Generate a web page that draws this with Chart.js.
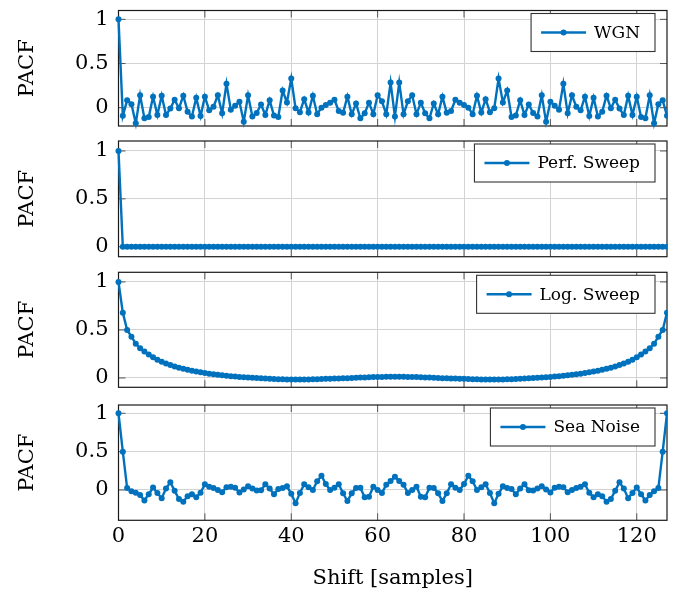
<!DOCTYPE html>
<html>
<head>
<meta charset="utf-8">
<script src="https://cdn.jsdelivr.net/npm/chart.js@4/dist/chart.umd.min.js"></script>
<style>
  html, body { margin: 0; padding: 0; background: #fff; width: 674px; height: 595px; overflow: hidden; position: relative; }
  canvas { position: absolute; left: 0; }
</style>
</head>
<body>
<canvas id="c1"></canvas>
<canvas id="c2"></canvas>
<canvas id="c3"></canvas>
<canvas id="c4"></canvas>
<script>
// Lag axis: shifts 0..128 (the last one lies just past the right edge)
const lags = Array.from({ length: 129 }, (_, i) => i);
const xTickValues = [0, 20, 40, 60, 80, 100, 120];
const yTickValues = [0, 0.5, 1];

// Partial autocorrelation of white Gaussian noise
const pacfWGN = [
  1.000, -0.090, 0.083, 0.040, -0.177, 0.140, -0.120, -0.105, 0.125, -0.082,
  0.136, -0.082, -0.010, 0.090, -0.007, 0.136, -0.045, -0.100, 0.113, -0.094,
  0.125, -0.030, 0.011, 0.140, -0.064, 0.272, -0.022, 0.023, 0.068, -0.160,
  0.140, -0.100, -0.060, 0.037, -0.082, 0.083, -0.088, -0.105, 0.195, 0.060,
  0.330, -0.007, -0.050, 0.097, -0.055, 0.136, -0.073, 0.000, 0.032, 0.055,
  0.090, -0.037, -0.058, 0.125, -0.075, 0.048, -0.120, -0.063, 0.057, -0.073,
  0.140, 0.072, -0.075, 0.284, -0.100, 0.284, -0.075, 0.072, 0.140, -0.073,
  0.057, -0.063, -0.120, 0.048, -0.075, 0.125, -0.058, -0.037, 0.090, 0.055,
  0.032, 0.000, -0.073, 0.136, -0.055, 0.097, -0.050, -0.007, 0.330, 0.060,
  0.195, -0.105, -0.088, 0.083, -0.082, 0.037, -0.060, -0.100, 0.140, -0.160,
  0.068, 0.023, -0.022, 0.272, -0.064, 0.140, 0.011, -0.030, 0.125, -0.094,
  0.113, -0.100, -0.045, 0.136, -0.007, 0.090, -0.010, -0.082, 0.136, -0.082,
  0.125, -0.105, -0.120, 0.140, -0.177, 0.040, 0.083, -0.090, 1.000
];

// Partial autocorrelation of the perfect sweep
const pacfPerfSweep = [
  1, 0, 0, 0, 0, 0, 0, 0, 0, 0, 0, 0, 0, 0, 0, 0, 0, 0, 0, 0,
  0, 0, 0, 0, 0, 0, 0, 0, 0, 0, 0, 0, 0, 0, 0, 0, 0, 0, 0, 0,
  0, 0, 0, 0, 0, 0, 0, 0, 0, 0, 0, 0, 0, 0, 0, 0, 0, 0, 0, 0,
  0, 0, 0, 0, 0, 0, 0, 0, 0, 0, 0, 0, 0, 0, 0, 0, 0, 0, 0, 0,
  0, 0, 0, 0, 0, 0, 0, 0, 0, 0, 0, 0, 0, 0, 0, 0, 0, 0, 0, 0,
  0, 0, 0, 0, 0, 0, 0, 0, 0, 0, 0, 0, 0, 0, 0, 0, 0, 0, 0, 0,
  0, 0, 0, 0, 0, 0, 0, 0, 1
];

// Partial autocorrelation of the logarithmic sweep
const pacfLogSweep = [
  1.000, 0.680, 0.500, 0.430, 0.355, 0.310, 0.275, 0.245, 0.215, 0.190,
  0.168, 0.150, 0.134, 0.120, 0.107, 0.096, 0.086, 0.076, 0.067, 0.059,
  0.052, 0.045, 0.039, 0.033, 0.028, 0.023, 0.019, 0.015, 0.011, 0.008,
  0.005, 0.002, 0.000, -0.003, -0.005, -0.007, -0.010, -0.012, -0.014, -0.016,
  -0.017, -0.017, -0.017, -0.016, -0.015, -0.014, -0.012, -0.010, -0.009, -0.008,
  -0.006, -0.005, -0.003, -0.002, 0.000, 0.002, 0.004, 0.006, 0.008, 0.009,
  0.010, 0.011, 0.012, 0.012, 0.012, 0.012, 0.012, 0.011, 0.010, 0.009,
  0.008, 0.006, 0.004, 0.002, 0.000, -0.002, -0.003, -0.005, -0.006, -0.008,
  -0.009, -0.010, -0.012, -0.014, -0.015, -0.016, -0.017, -0.017, -0.017, -0.016,
  -0.014, -0.012, -0.010, -0.007, -0.005, -0.003, 0.000, 0.002, 0.005, 0.008,
  0.011, 0.015, 0.019, 0.023, 0.028, 0.033, 0.039, 0.045, 0.052, 0.059,
  0.067, 0.076, 0.086, 0.096, 0.107, 0.120, 0.134, 0.150, 0.168, 0.190,
  0.215, 0.245, 0.275, 0.310, 0.355, 0.430, 0.500, 0.680, 1.000
];

// Partial autocorrelation of the recorded sea noise
const pacfSeaNoise = [
  1.000, 0.500, 0.025, -0.016, -0.036, -0.065, -0.136, -0.056, 0.032, -0.038,
  -0.108, 0.018, 0.100, -0.011, -0.117, -0.152, -0.080, -0.054, -0.093, -0.036,
  0.074, 0.043, 0.026, 0.000, -0.030, 0.036, 0.043, 0.030, -0.032, 0.006,
  0.050, 0.018, -0.006, -0.004, 0.074, 0.018, -0.056, 0.013, 0.026, 0.048,
  -0.050, -0.174, -0.039, 0.074, 0.036, 0.000, 0.113, 0.187, 0.078, 0.000,
  0.028, 0.074, -0.043, -0.143, -0.043, 0.026, 0.030, -0.094, -0.087, 0.043,
  0.000, -0.038, 0.068, 0.117, 0.174, 0.117, 0.068, -0.038, 0.000, 0.043,
  -0.087, -0.094, 0.030, 0.026, -0.043, -0.143, -0.043, 0.074, 0.028, 0.000,
  0.078, 0.187, 0.113, 0.000, 0.036, 0.074, -0.039, -0.174, -0.050, 0.048,
  0.026, 0.013, -0.056, 0.018, 0.074, -0.004, -0.006, 0.018, 0.050, 0.006,
  -0.032, 0.030, 0.043, 0.036, -0.030, 0.000, 0.026, 0.043, 0.074, -0.036,
  -0.093, -0.054, -0.080, -0.152, -0.117, -0.011, 0.100, 0.018, -0.108, -0.038,
  0.032, -0.056, -0.136, -0.065, -0.016, 0.025, 0.500, 1.000
];

const FONT = '"DejaVu Serif", serif';
const BLUE = '#0072bd';
const GRID = '#d3d3d3';

// Outer frame plus short inward tick marks on all four sides
const framePlugin = {
  id: 'frame',
  beforeDatasetsDraw(chart) {
    const { ctx, chartArea: a, scales } = chart;
    const len = 7;
    ctx.save();
    ctx.strokeStyle = '#555';
    ctx.lineWidth = 1;
    ctx.beginPath();
    scales.x.ticks.forEach(t => {
      const px = scales.x.getPixelForValue(t.value);
      ctx.moveTo(px, a.top); ctx.lineTo(px, a.top + len);
      ctx.moveTo(px, a.bottom); ctx.lineTo(px, a.bottom - len);
    });
    scales.y.ticks.forEach(t => {
      const py = scales.y.getPixelForValue(t.value);
      ctx.moveTo(a.left, py); ctx.lineTo(a.left + len, py);
      ctx.moveTo(a.right, py); ctx.lineTo(a.right - len, py);
    });
    ctx.stroke();
    ctx.strokeStyle = '#1a1a1a';
    ctx.lineWidth = 1.2;
    ctx.strokeRect(a.left, a.top, a.right - a.left, a.bottom - a.top);
    ctx.restore();
  }
};

// Boxed legend in the upper right corner of the plot area
const legendPlugin = {
  id: 'boxLegend',
  afterDraw(chart) {
    const { ctx, chartArea: a } = chart;
    const ds = chart.data.datasets[0];
    ctx.save();
    ctx.font = '17px ' + FONT;
    const tw = ctx.measureText(ds.label).width;
    const h = 38, padL = 10, sample = 45, gap = 8, padR = 15;
    const w = padL + sample + gap + tw + padR;
    const right = a.right - 12, top = a.top + 3;
    const left = right - w;
    ctx.fillStyle = '#fff';
    ctx.fillRect(left, top, w, h);
    ctx.strokeStyle = '#333';
    ctx.lineWidth = 1.1;
    ctx.strokeRect(left, top, w, h);
    const cy = top + h / 2;
    ctx.strokeStyle = ds.borderColor;
    ctx.lineWidth = ds.borderWidth;
    ctx.beginPath();
    ctx.moveTo(left + padL, cy);
    ctx.lineTo(left + padL + sample, cy);
    ctx.stroke();
    ctx.fillStyle = ds.backgroundColor;
    ctx.beginPath();
    ctx.arc(left + padL + sample / 2, cy, ds.pointRadius, 0, Math.PI * 2);
    ctx.fill();
    ctx.fillStyle = '#000';
    ctx.textBaseline = 'middle';
    ctx.textAlign = 'left';
    ctx.fillText(ds.label, left + padL + sample + gap, cy + 1);
    ctx.restore();
  }
};

const panels = [
  { id: 'c1', label: 'WGN',         values: pacfWGN,       yMin: -0.207, yMax: 1.100, top: -30, height: 196, padTop: 40.5, padBottom: 40,   xAxis: false },
  { id: 'c2', label: 'Perf. Sweep', values: pacfPerfSweep, yMin: -0.104, yMax: 1.104, top: 101, height: 196, padTop: 40,   padBottom: 40.3, xAxis: false },
  { id: 'c3', label: 'Log. Sweep',  values: pacfLogSweep,  yMin: -0.097, yMax: 1.100, top: 232, height: 196, padTop: 40.3, padBottom: 40.7, xAxis: false },
  { id: 'c4', label: 'Sea Noise',   values: pacfSeaNoise,  yMin: -0.395, yMax: 1.108, top: 365, height: 230, padTop: 40,   padBottom: 0,    xAxis: true }
];

panels.forEach(p => {
  const canvas = document.getElementById(p.id);
  canvas.width = 674;
  canvas.height = p.height;
  canvas.style.width = '674px';
  canvas.style.height = p.height + 'px';
  canvas.style.top = p.top + 'px';

  new Chart(canvas, {
    type: 'line',
    data: {
      datasets: [{
        label: p.label,
        data: lags.map((lag, i) => ({ x: lag, y: p.values[i] })),
        borderColor: BLUE,
        backgroundColor: BLUE,
        borderWidth: 2.4,
        pointRadius: 3,
        pointBorderWidth: 0,
        pointHoverRadius: 3,
        tension: 0,
        clip: { left: 6, top: 6, right: 0.5, bottom: 6 }
      }]
    },
    options: {
      responsive: false,
      animation: false,
      devicePixelRatio: 1,
      events: [],
      layout: { padding: { top: p.padTop, bottom: p.padBottom, left: 0, right: 7 } },
      plugins: { legend: { display: false }, tooltip: { enabled: false } },
      scales: {
        x: {
          type: 'linear',
          min: 0,
          max: 127,
          afterBuildTicks: s => { s.ticks = xTickValues.map(v => ({ value: v })); },
          afterFit: s => { s.height = p.xAxis ? 74.7 : 0; },
          border: { display: false },
          grid: { color: GRID, lineWidth: 1, drawTicks: false },
          ticks: {
            display: p.xAxis,
            padding: 4,
            maxRotation: 0,
            color: '#000',
            font: { family: FONT, size: 21 },
            callback: v => String(v)
          },
          title: {
            display: p.xAxis,
            text: 'Shift [samples]',
            color: '#000',
            font: { family: FONT, size: 21 },
            padding: { top: 0, bottom: 4 }
          }
        },
        y: {
          type: 'linear',
          min: p.yMin,
          max: p.yMax,
          afterBuildTicks: s => { s.ticks = yTickValues.map(v => ({ value: v })); },
          afterFit: s => { s.width = 118.5; },
          border: { display: false },
          grid: { color: GRID, lineWidth: 1, drawTicks: false },
          ticks: {
            padding: 10,
            color: '#000',
            font: { family: FONT, size: 21 },
            callback: v => String(v)
          },
          title: {
            display: true,
            text: 'PACF',
            color: '#000',
            font: { family: FONT, size: 21 },
            padding: { top: 15, bottom: 0 }
          }
        }
      }
    },
    plugins: [framePlugin, legendPlugin]
  });
});
</script>
</body>
</html>
